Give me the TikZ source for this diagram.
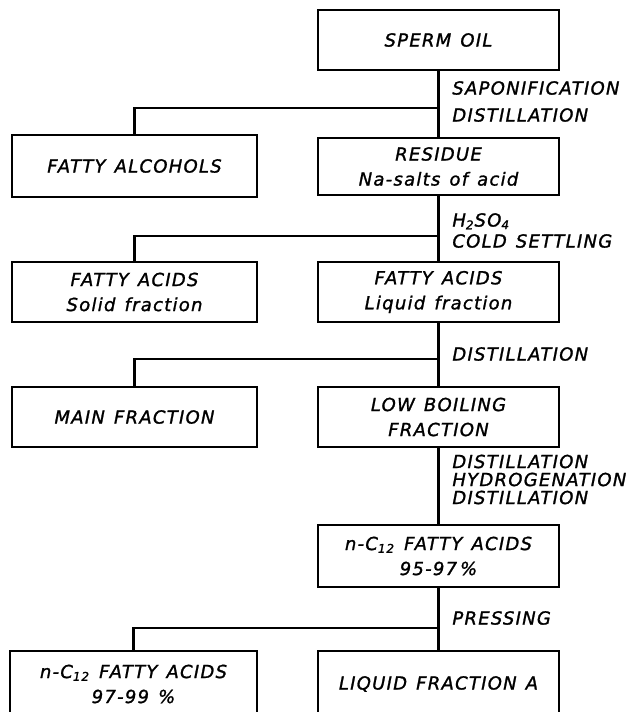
\documentclass[tikz,border=0pt]{standalone}
\usepackage{fontspec}
\newfontfamily\flowfont{DejaVu Sans}[LetterSpace=7,WordSpace=1.3,FakeBold=1.3]

\begin{document}
\begin{tikzpicture}[x=0.5pt,y=-0.5pt,
  every node/.style={font=\flowfont\itshape\fontsize{9}{12.5}\selectfont},
  stagebox/.style={draw,line width=1.4pt,minimum width=120.5pt,minimum height=30pt,
    align=center,inner sep=0pt},
  sidebox/.style={stagebox,minimum width=122.5pt},
  oplabel/.style={anchor=west,align=left,inner sep=0pt},
  feed/.style={line width=1.15pt}]
  \clip (0,0) rectangle (630,712);
  \path (438.5,40)
    node (oil) [stagebox] {SPERM OIL}
    (438.5,166.5)
    node (res) [stagebox,minimum height=28.5pt] {RESIDUE\\Na-salts of acid}
    (438.5,292)
    node (liq) [stagebox] {FATTY ACIDS\\Liquid fraction}
    (438.5,417)
    node (low) [stagebox] {LOW BOILING\\FRACTION}
    (438.5,556)
    node (cdd) [stagebox,minimum height=31pt] {n-C\textsubscript{12} FATTY ACIDS\\95-97\,\%}
    (438.5,684)
    node (lqa) [stagebox,minimum height=33pt] {LIQUID FRACTION A}
    ;
  \path (134.5,166)
    node (alc) [sidebox,minimum height=31pt] {FATTY ALCOHOLS}
    (134.5,292)
    node (sol) [sidebox] {FATTY ACIDS\\Solid fraction}
    (134.5,417)
    node (mai) [sidebox] {MAIN FRACTION}
    (133.5,684)
    node (cpu) [sidebox,minimum width=123.5pt,minimum height=33pt] {n-C\textsubscript{12} FATTY ACIDS\\97-99 \%}
    ;
  \node (sap) [oplabel] at (452,101.5) {SAPONIFICATION\\[1pt]DISTILLATION};
  \node (aci) [oplabel] at (452,230.5) {H\textsubscript{2}SO\textsubscript{4}\\[-2pt]COLD SETTLING};
  \node (dis) [oplabel] at (452,354) {DISTILLATION};
  \node (hyd) [oplabel] at (452,479.5) {DISTILLATION\\[-3.5pt]HYDROGENATION\\[-3.5pt]DISTILLATION};
  \node (pre) [oplabel] at (452,618) {PRESSING};

  \coordinate (oilb) at (438.5,108);
  \coordinate (resb) at (438.5,236);
  \coordinate (liqb) at (438.5,359);
  \coordinate (cddb) at (438.5,628);
  \draw[feed] (oil) -- (res);
  \draw[feed] (res) -- (liq);
  \draw[feed] (liq) -- (low);
  \draw[feed] (low) -- (cdd);
  \draw[feed] (cdd) -- (lqa);
  \draw[feed] (oilb) -| (alc);
  \draw[feed] (resb) -| (sol);
  \draw[feed] (liqb) -| (mai);
  \draw[feed] (cddb) -| (cpu);
\end{tikzpicture}
\end{document}
